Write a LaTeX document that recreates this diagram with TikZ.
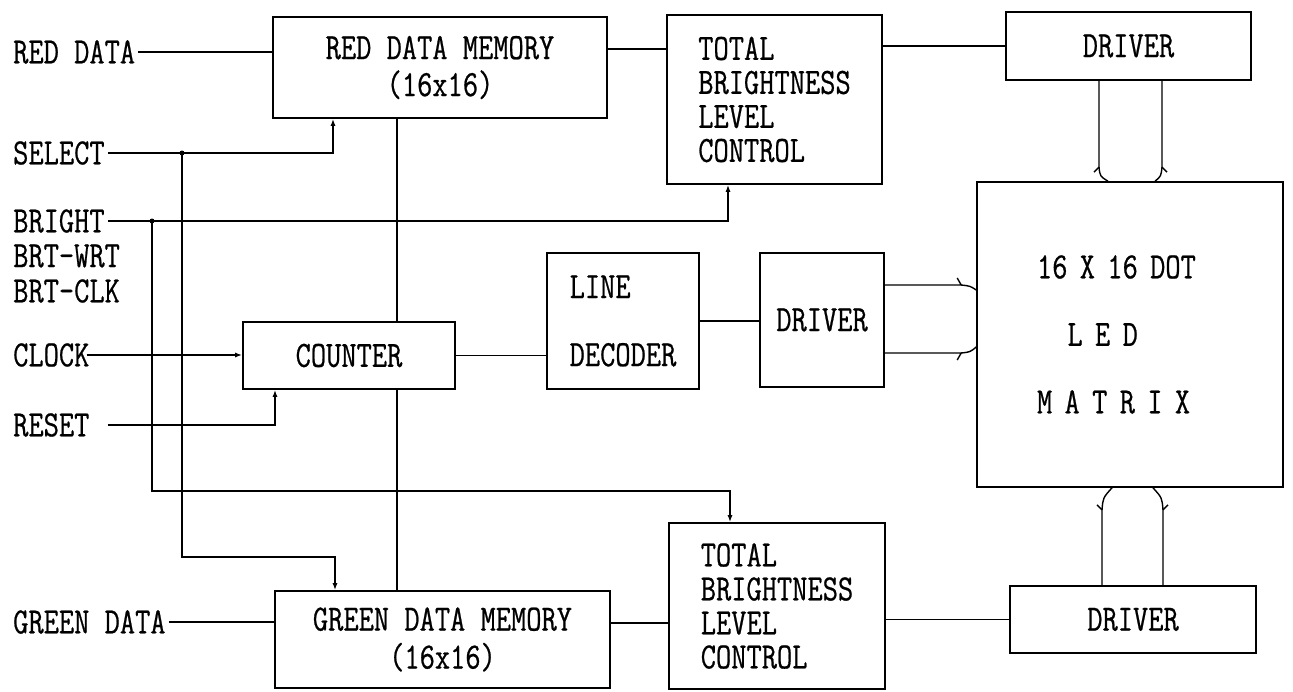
\documentclass[tikz,border=0pt]{standalone}
\usepackage{fontspec}
\newfontfamily\tw[FakeStretch=0.8,FakeBold=0.6]{Latin Modern Mono}
\usetikzlibrary{arrows.meta,calc}
\begin{document}
\begin{tikzpicture}[x=1pt,y=-1pt,
  every node/.style={font=\tw\fontsize{37}{34}\selectfont},
  blk/.style={draw,line width=1.6pt,inner sep=0pt,align=center},
  lbl/.style={inner sep=0pt,anchor=west},
  wire/.style={line width=1.4pt},
  arr/.style={wire,-{Latex[length=7pt,width=5pt]}},
  jdot/.style={circle,fill,inner sep=0pt,minimum size=5pt}]
\useasboundingbox (0,0) rectangle (1293,691);

% blocks
\node[blk,minimum width=334pt,minimum height=101pt] (redM) at (440,67.5) {RED DATA MEMORY\\[3pt](16x16)};
\node[blk,align=left,minimum width=215pt,minimum height=169pt] (tblcT) at (774.5,99.5) {TOTAL\\BRIGHTNESS\\LEVEL\\CONTROL};
\node[blk,minimum width=245pt,minimum height=68pt] (drvT) at (1128.5,46) {DRIVER};
\node[blk,align=left,text width=186pt,minimum width=306pt,minimum height=305pt] (mat) at (1130,334.5) {16 X 16 DOT\\[33.5pt]\phantom{16}L E D\\[33.5pt]M A T R I X};
\node[blk,minimum width=212pt,minimum height=67pt] (cnt) at (349,355.5) {COUNTER};
\node[blk,align=left,minimum width=152pt,minimum height=136pt] (dec) at (623,321) {LINE\\[34pt]DECODER};
\node[blk,minimum width=124pt,minimum height=134pt] (drvM) at (822,320) {DRIVER};
\node[blk,minimum width=335pt,minimum height=97pt] (grnM) at (442.5,639.5) {GREEN DATA MEMORY\\[4pt](16x16)};
\node[blk,align=left,minimum width=216pt,minimum height=166pt] (tblcB) at (777,606) {TOTAL\\BRIGHTNESS\\LEVEL\\CONTROL};
\node[blk,minimum width=246pt,minimum height=67pt] (drvB) at (1133,619.5) {DRIVER};

% left labels
\node[lbl] (rd) at (13,52) {RED DATA};
\node[lbl] (sel) at (13,153) {SELECT};
\node[lbl] (brt) at (13,221) {BRIGHT};
\node[lbl] (bwr) at (13,256) {BRT-WRT};
\node[lbl] (bck) at (13,291) {BRT-CLK};
\node[lbl] (clk) at (13,355) {CLOCK};
\node[lbl] (rst) at (13,425) {RESET};
\node[lbl] (gd) at (13,622) {GREEN DATA};

% helper coordinates
\coordinate (yR) at (0,49);
\coordinate (yG) at (0,623);
\coordinate (xv) at (397,0);
\coordinate (xs) at (333,0);
\coordinate (xs2) at (182,0);
\coordinate (xs3) at (335,0);
\coordinate (yb1) at (0,557);
\coordinate (xb) at (728,0);
\coordinate (xb2) at (152,0);
\coordinate (xb3) at (730,0);
\coordinate (yb2) at (0,491);
\coordinate (xr) at (275,0);

% data path
\draw[wire] ($(rd.east)+(3,0)$) -- (rd.east -| redM.west);
\draw[wire] (redM.east |- yR) -- (tblcT.west |- yR);
\draw[wire] (tblcT.east |- drvT.west) -- (drvT.west);
\draw[wire] ($(gd.east)+(3,0)$) -- (gd.east -| grnM.west);
\draw[wire] (grnM.east |- yG) -- (tblcB.west |- yG);
\draw[wire] (tblcB.east |- drvB.west) -- (drvB.west);
\draw[wire] (cnt.east) -- (cnt.east -| dec.west);
\draw[wire] (dec.east) -- (drvM.west |- dec.east);
\draw[wire] (redM.south -| xv) -- (cnt.north -| xv);
\draw[wire] (cnt.south -| xv) -- (grnM.north -| xv);

% select
\draw[arr] ($(sel.east)+(3,0)$) -| (redM.south -| xs);
\node[jdot] (j1) at (sel.east -| xs2) {};
\draw[arr] (j1.center) -- (j1.center |- yb1) -| (grnM.north -| xs3);

% bright
\draw[arr] ($(brt.east)+(3,0)$) -| (tblcT.south -| xb);
\node[jdot] (j2) at (brt.east -| xb2) {};
\draw[arr] (j2.center) -- (j2.center |- yb2) -| (tblcB.north -| xb3);

% clock, reset
\draw[arr] ($(clk.east)+(-3,0)$) -- (clk.east -| cnt.west);
\draw[arr] ($(rst.east)+(18,0)$) -| (cnt.south -| xr);

% bus arrows: top driver -> matrix
\coordinate (ta) at (1099,0);
\coordinate (tb) at (1162,0);
\draw[wire] (drvT.south -| ta) -- ($(mat.north -| ta)+(0,-14)$) coordinate (ta1) -- ++(-5,5);
\draw[wire] (ta1) .. controls +(1,9) .. ($(mat.north -| ta)+(9,0)$);
\draw[wire] (drvT.south -| tb) -- ($(mat.north -| tb)+(0,-14)$) coordinate (tb1) -- ++(5,5);
\draw[wire] (tb1) .. controls +(-1,9) .. ($(mat.north -| tb)+(-7,0)$);

% bottom driver -> matrix
\coordinate (ba) at (1102,0);
\coordinate (bb) at (1163,0);
\draw[wire] (drvB.north -| ba) -- ($(mat.south -| ba)+(0,22)$) coordinate (ba1) -- ++(-5,-5);
\draw[wire] (ba1) .. controls +(1,-12) .. ($(mat.south -| ba)+(10,0)$);
\draw[wire] (drvB.north -| bb) -- ($(mat.south -| bb)+(0,22)$) coordinate (bb1) -- ++(5,-5);
\draw[wire] (bb1) .. controls +(-1,-12) .. ($(mat.south -| bb)+(-10,0)$);

% middle driver -> matrix
\coordinate (ma) at (0,285);
\coordinate (mb) at (0,353);
\draw[wire] (drvM.east |- ma) -- ($(mat.west |- ma)+(-15,0)$) coordinate (ma1) -- ++(-4,-7);
\draw[wire] (ma1) .. controls +(9,1) .. ($(mat.west |- ma)+(0,5)$);
\draw[wire] (drvM.east |- mb) -- ($(mat.west |- mb)+(-15,0)$) coordinate (mb1) -- ++(-4,7);
\draw[wire] (mb1) .. controls +(9,-1) .. ($(mat.west |- mb)+(0,-6)$);
\end{tikzpicture}
\end{document}
